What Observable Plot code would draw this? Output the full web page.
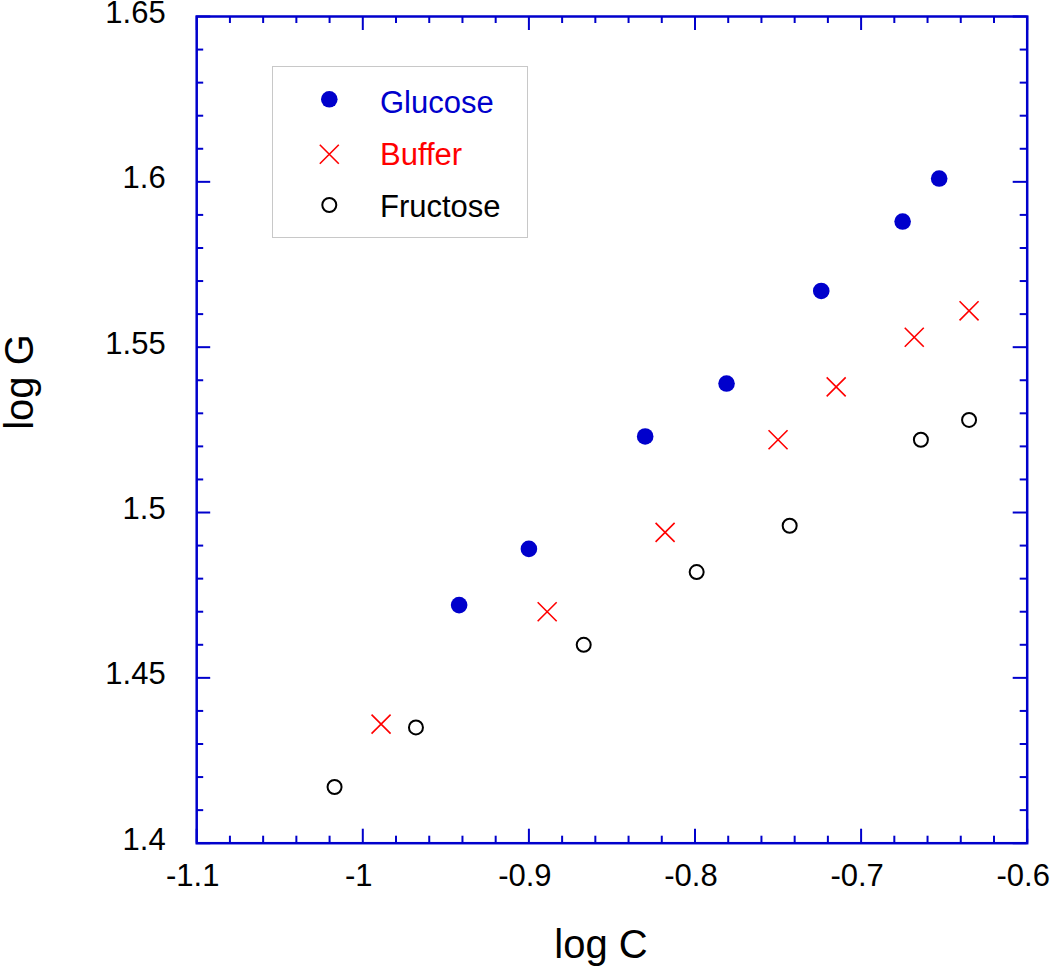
<!DOCTYPE html>
<html>
<head>
<meta charset="utf-8">
<script src="https://cdn.jsdelivr.net/npm/d3@7"></script>
<script src="https://cdn.jsdelivr.net/npm/@observablehq/plot@0.6"></script>
<style>
  html, body { margin: 0; padding: 0; background: #ffffff; }
  #wrap { position: relative; width: 1050px; height: 966px; }
  #legend { position: absolute; left: 272px; top: 66px; width: 256px; height: 172px; box-sizing: border-box; border: 1px solid #c8c8c8; background: #ffffff; }
  #legend svg { position: absolute; left: -1px; top: -1px; overflow: visible; }
</style>
</head>
<body>
<div id="wrap"><div id="chart"></div><div id="legend"></div></div>
<script>
// ---- data ----
const seriesNames = ["Glucose", "Buffer", "Fructose"];
const glucoseX = [-0.942, -0.900, -0.830, -0.781, -0.724, -0.675, -0.653];
const glucoseY = [1.472, 1.489, 1.523, 1.539, 1.567, 1.588, 1.601];
const bufferX = [-0.989, -0.889, -0.818, -0.750, -0.715, -0.668, -0.635];
const bufferY = [1.436, 1.470, 1.494, 1.522, 1.538, 1.553, 1.561];
const fructoseX = [-1.017, -0.968, -0.867, -0.799, -0.743, -0.664, -0.635];
const fructoseY = [1.417, 1.435, 1.460, 1.482, 1.496, 1.522, 1.528];
const xMajorTicks = [-1.1, -1.0, -0.9, -0.8, -0.7, -0.6];
const xMinorTicks = [-1.08, -1.06, -1.04, -1.02, -0.98, -0.96, -0.94, -0.92, -0.88, -0.86, -0.84, -0.82, -0.78, -0.76, -0.74, -0.72, -0.68, -0.66, -0.64, -0.62];
const yMajorTicks = [1.4, 1.45, 1.5, 1.55, 1.6, 1.65];
const yMinorTicks = [1.41, 1.42, 1.43, 1.44, 1.46, 1.47, 1.48, 1.49, 1.51, 1.52, 1.53, 1.54, 1.56, 1.57, 1.58, 1.59, 1.61, 1.62, 1.63, 1.64];
const xTickLabels = ["-1.1", "-1", "-0.9", "-0.8", "-0.7", "-0.6"];
const yTickLabels = ["1.4", "1.45", "1.5", "1.55", "1.6", "1.65"];
const xTitle = "log C";
const yTitle = "log G";

// ---- style ----
const BLUE = "#0000cc", RED = "#ff0000", BLACK = "#000000";
const FONT = "Arial, 'Liberation Sans', Helvetica, sans-serif";
const W = 1050, H = 966;
const mL = 196.2, mR = 23.3, mT = 16, mB = 123.3;
const plotW = W - mL - mR, plotH = H - mT - mB;
const MAJ = 14, MIN = 7;

const glucose = glucoseX.map((x, i) => ({x, y: glucoseY[i]}));
const buffer = bufferX.map((x, i) => ({x, y: bufferY[i]}));
const fructose = fructoseX.map((x, i) => ({x, y: fructoseY[i]}));
const xLab = xMajorTicks.map((v, i) => ({v, t: xTickLabels[i]}));
const yLab = yMajorTicks.map((v, i) => ({v, t: yTickLabels[i]}));

const tickStyle = {stroke: BLUE, strokeWidth: 2};

const chart = Plot.plot({
  width: W, height: H,
  marginLeft: mL, marginRight: mR, marginTop: mT, marginBottom: mB,
  style: {background: "#ffffff", fontFamily: FONT, overflow: "visible"},
  x: {domain: [-1.1, -0.6], axis: null},
  y: {domain: [1.4, 1.65], axis: null},
  marks: [
    // bottom ticks (inward)
    Plot.tickX(xMajorTicks, {x: d => d, insetTop: plotH - MAJ, ...tickStyle}),
    Plot.tickX(xMinorTicks, {x: d => d, insetTop: plotH - MIN, ...tickStyle}),
    // top ticks (inward)
    Plot.tickX(xMajorTicks, {x: d => d, insetBottom: plotH - MAJ, ...tickStyle}),
    Plot.tickX(xMinorTicks, {x: d => d, insetBottom: plotH - MIN, ...tickStyle}),
    // left ticks
    Plot.tickY(yMajorTicks, {y: d => d, insetRight: plotW - MAJ, ...tickStyle}),
    Plot.tickY(yMinorTicks, {y: d => d, insetRight: plotW - MIN, ...tickStyle}),
    // right ticks
    Plot.tickY(yMajorTicks, {y: d => d, insetLeft: plotW - MAJ, ...tickStyle}),
    Plot.tickY(yMinorTicks, {y: d => d, insetLeft: plotW - MIN, ...tickStyle}),
    Plot.frame({stroke: BLUE, strokeWidth: 2.5}),
    // tick labels
    Plot.text(xLab, {x: "v", text: "t", frameAnchor: "bottom", lineAnchor: "middle", dy: 32.5, dx: -4, fontSize: 31, fill: BLACK}),
    Plot.text(yLab, {y: "v", text: "t", frameAnchor: "left", textAnchor: "end", lineAnchor: "middle", dx: -31, dy: -3.5, fontSize: 31, fill: BLACK}),
    // axis titles
    Plot.text([xTitle], {frameAnchor: "bottom", lineAnchor: "middle", dy: 102, dx: -11, fontSize: 40, fill: BLACK}),
    Plot.text([yTitle], {frameAnchor: "left", rotate: -90, lineAnchor: "middle", dx: -177, fontSize: 40, fill: BLACK}),
    // data
    Plot.dot(fructose, {x: "x", y: "y", r: 7, stroke: BLACK, strokeWidth: 2, fill: "none"}),
    Plot.dot(buffer, {x: "x", y: "y", r: 8.7, symbol: "times", stroke: RED, strokeWidth: 1.6}),
    Plot.dot(glucose, {x: "x", y: "y", r: 8.3, fill: BLUE, stroke: "none"})
  ]
});
document.getElementById("chart").appendChild(chart);

// ---- legend (inside plot area, top-left) ----
const legendColors = [BLUE, RED, BLACK];
const legendRowsY = [33.3, 88.3, 139];
const legendBaselines = [46.7, 99, 150.7];
const ns = "http://www.w3.org/2000/svg";
const lsvg = document.createElementNS(ns, "svg");
lsvg.setAttribute("width", 256); lsvg.setAttribute("height", 172);
seriesNames.forEach((name, i) => {
  const cx = 57.3, cy = legendRowsY[i];
  if (i === 0) {
    const c = document.createElementNS(ns, "circle");
    c.setAttribute("cx", cx); c.setAttribute("cy", cy); c.setAttribute("r", 8.3);
    c.setAttribute("fill", legendColors[i]);
    lsvg.appendChild(c);
  } else if (i === 1) {
    const p = document.createElementNS(ns, "path");
    const h = 9.5;
    p.setAttribute("d", `M${cx-h},${cy-h}L${cx+h},${cy+h}M${cx-h},${cy+h}L${cx+h},${cy-h}`);
    p.setAttribute("stroke", legendColors[i]); p.setAttribute("stroke-width", 1.6);
    lsvg.appendChild(p);
  } else {
    const c = document.createElementNS(ns, "circle");
    c.setAttribute("cx", cx); c.setAttribute("cy", cy); c.setAttribute("r", 7);
    c.setAttribute("fill", "none"); c.setAttribute("stroke", legendColors[i]); c.setAttribute("stroke-width", 2);
    lsvg.appendChild(c);
  }
  const t = document.createElementNS(ns, "text");
  t.setAttribute("x", 108); t.setAttribute("y", legendBaselines[i]);
  t.setAttribute("fill", legendColors[i]);
  t.setAttribute("font-family", FONT); t.setAttribute("font-size", 31);
  t.textContent = name;
  lsvg.appendChild(t);
});
document.getElementById("legend").appendChild(lsvg);
</script>
</body>
</html>
